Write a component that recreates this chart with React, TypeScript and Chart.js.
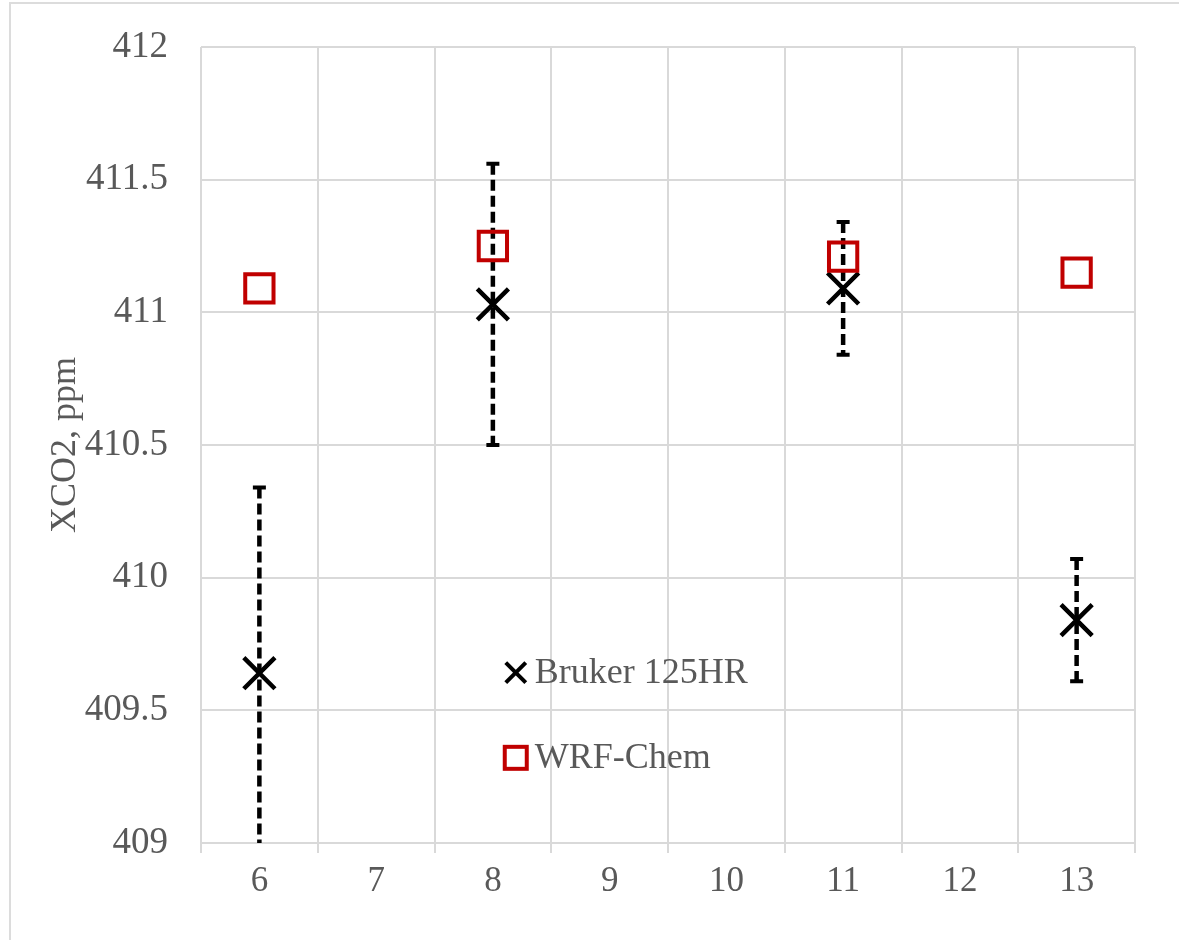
import React, { useEffect, useRef } from "react";
import { Chart, registerables } from "chart.js";

Chart.register(...registerables);

const categories = ["6", "7", "8", "9", "10", "11", "12", "13"];
const brukerValues = [409.64, null, 411.03, null, null, 411.09, null, 409.84];
const brukerErrors = [0.7, null, 0.53, null, null, 0.25, null, 0.23];
const wrfValues = [411.09, null, 411.25, null, null, 411.21, null, 411.15];
const yTicks = [409, 409.5, 410, 410.5, 411, 411.5, 412];
const seriesNames = ["Bruker 125HR", "WRF-Chem"];
const axisTitle = "XCO2, ppm";

const FONT = "'Liberation Serif', 'Times New Roman', serif";
const TEXT = "#595959";
const GRID = "#d9d9d9";
const RED = "#C00000";

const errorBarPlugin = {
  id: "errorBars",
  beforeDatasetsDraw(chart: any) {
    const { ctx, chartArea, scales } = chart;
    const meta = chart.getDatasetMeta(0);
    ctx.save();
    ctx.beginPath();
    ctx.rect(chartArea.left, chartArea.top, chartArea.right - chartArea.left, chartArea.bottom - chartArea.top);
    ctx.clip();
    ctx.strokeStyle = "#000";
    brukerValues.forEach((v, i) => {
      const e = brukerErrors[i];
      if (v == null || e == null) return;
      const x = meta.data[i].x;
      const yTop = scales.y.getPixelForValue(v + e);
      const yBot = scales.y.getPixelForValue(v - e);
      ctx.lineWidth = 4.5;
      ctx.setLineDash([11, 5]);
      ctx.beginPath();
      ctx.moveTo(x, yTop);
      ctx.lineTo(x, yBot);
      ctx.stroke();
      ctx.setLineDash([]);
      ctx.lineWidth = 4;
      ctx.beginPath();
      ctx.moveTo(x - 6.5, yTop);
      ctx.lineTo(x + 6.5, yTop);
      ctx.moveTo(x - 6.5, yBot);
      ctx.lineTo(x + 6.5, yBot);
      ctx.stroke();
    });
    ctx.restore();
  },
};

const legendPlugin = {
  id: "innerLegend",
  afterDraw(chart: any) {
    const { ctx, chartArea } = chart;
    const w = chartArea.right - chartArea.left;
    const h = chartArea.bottom - chartArea.top;
    const mx = chartArea.left + 0.337 * w;
    const y1 = chartArea.top + 0.786 * h;
    const y2 = chartArea.top + 0.893 * h;
    ctx.save();
    ctx.strokeStyle = "#000";
    ctx.lineWidth = 4;
    ctx.beginPath();
    ctx.moveTo(mx - 10, y1 - 10);
    ctx.lineTo(mx + 10, y1 + 10);
    ctx.moveTo(mx + 10, y1 - 10);
    ctx.lineTo(mx - 10, y1 + 10);
    ctx.stroke();
    ctx.strokeStyle = RED;
    ctx.lineWidth = 4;
    ctx.strokeRect(mx - 11, y2 - 11, 22, 22);
    ctx.fillStyle = TEXT;
    ctx.font = `36px ${FONT}`;
    ctx.textBaseline = "middle";
    ctx.textAlign = "left";
    ctx.fillText(seriesNames[0], mx + 19, y1 + 1);
    ctx.fillText(seriesNames[1], mx + 19, y2 + 1);
    ctx.restore();
  },
};

export default function App() {
  const ref = useRef<HTMLCanvasElement>(null);
  useEffect(() => {
    if (!ref.current) return;
    const chart = new Chart(ref.current, {
      type: "line",
      data: {
        labels: categories,
        datasets: [
          {
            label: seriesNames[0],
            data: brukerValues as any,
            showLine: false,
            pointStyle: "crossRot",
            pointRadius: 22,
            pointHoverRadius: 22,
            pointBorderWidth: 4.5,
            borderColor: "#000",
            backgroundColor: "#000",
            order: 1,
          },
          {
            label: seriesNames[1],
            data: wrfValues as any,
            showLine: false,
            pointStyle: "rect",
            pointRadius: 20,
            pointHoverRadius: 20,
            pointBorderWidth: 4,
            borderColor: RED,
            backgroundColor: "rgba(255,255,255,0)",
            order: 0,
          },
        ],
      },
      options: {
        responsive: false,
        animation: false,
        devicePixelRatio: 1,
        layout: { padding: { top: 47, right: 44, left: 0, bottom: 0 } },
        plugins: { legend: { display: false }, tooltip: { enabled: false } },
        scales: {
          x: {
            type: "category",
            offset: true,
            grid: { offset: true, color: GRID, lineWidth: 2, tickLength: 10, drawTicks: true },
            border: { color: GRID, width: 2 },
            ticks: { color: TEXT, font: { family: FONT, size: 35 }, padding: 8, maxRotation: 0 },
            afterFit: (s: any) => {
              s.height = 97;
            },
          },
          y: {
            min: 409,
            max: 412,
            afterBuildTicks: (s: any) => {
              s.ticks = yTicks.map((v) => ({ value: v }));
            },
            grid: { color: GRID, lineWidth: 2, drawTicks: false },
            border: { display: false },
            ticks: {
              color: TEXT,
              font: { family: FONT, size: 37 },
              padding: 33,
              callback: (v: any) => String(v),
            },
            title: {
              display: true,
              text: axisTitle,
              color: TEXT,
              font: { family: FONT, size: 36, weight: "normal" },
              padding: { top: 44, bottom: 0 },
            },
            afterFit: (s: any) => {
              s.width = 201;
              s.paddingTop = 20;
              s.paddingBottom = 20;
            },
          },
        },
      },
      plugins: [errorBarPlugin, legendPlugin],
    });
    return () => chart.destroy();
  }, []);
  return (
    <div style={{ position: "absolute", left: 0, top: 0, width: 1179, height: 940, overflow: "hidden", background: "#fff" }}>
      <div
        style={{
          position: "absolute",
          left: 9,
          top: 2,
          width: 1300,
          height: 1100,
          border: "2px solid #dcdcdc",
        }}
      />
      <canvas ref={ref} width={1179} height={940} style={{ position: "absolute", left: 0, top: 0, display: "block" }} />
    </div>
  );
}
